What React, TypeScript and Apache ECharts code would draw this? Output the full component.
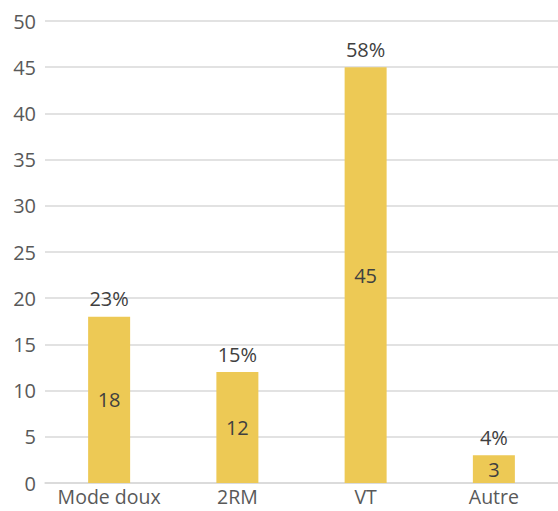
import React, { useEffect, useRef } from "react";
import * as echarts from "echarts";

const categories = ["Mode doux", "2RM", "VT", "Autre"];
const values = [18, 12, 45, 3];
const percents = ["23%", "15%", "58%", "4%"];

export default function App() {
  const ref = useRef<HTMLDivElement>(null);
  useEffect(() => {
    if (!ref.current) return;
    const chart = echarts.init(ref.current, undefined, { renderer: "svg" });
    const font = "'Open Sans', sans-serif";
    chart.setOption({
      animation: false,
      grid: { left: 45, right: 0, top: 21, bottom: 28, containLabel: false },
      xAxis: {
        type: "category",
        data: categories,
        axisTick: { show: false },
        axisLine: { show: true, lineStyle: { color: "#d9d9d9", width: 1.5 } },
        axisLabel: {
          color: "#595959",
          fontSize: 19.5,
          fontFamily: font,
          margin: 3,
          interval: 0,
          lineHeight: 20,
        },
      },
      yAxis: {
        type: "value",
        min: 0,
        max: 50,
        interval: 5,
        axisLine: { show: false },
        axisTick: { show: false },
        splitLine: { lineStyle: { color: "#d9d9d9", width: 1.5 } },
        axisLabel: { color: "#595959", fontSize: 20, fontFamily: font, margin: 9 },
      },
      series: [
        {
          type: "bar",
          data: values,
          barWidth: 42,
          itemStyle: { color: "#EDC955" },
          label: {
            show: true,
            position: "inside",
            color: "#404040",
            fontSize: 20,
            fontFamily: font,
          },
        },
        {
          type: "bar",
          data: values,
          barWidth: 42,
          barGap: "-100%",
          itemStyle: { color: "transparent" },
          label: {
            show: true,
            position: "top",
            distance: 8,
            color: "#404040",
            fontSize: 20,
            fontFamily: font,
            formatter: (p: any) => percents[p.dataIndex],
          },
        },
      ],
    });
    return () => chart.dispose();
  }, []);
  return (
    <div
      ref={ref}
      style={{ position: "fixed", left: 0, top: 0, width: 558, height: 511, background: "#fff" }}
    />
  );
}
